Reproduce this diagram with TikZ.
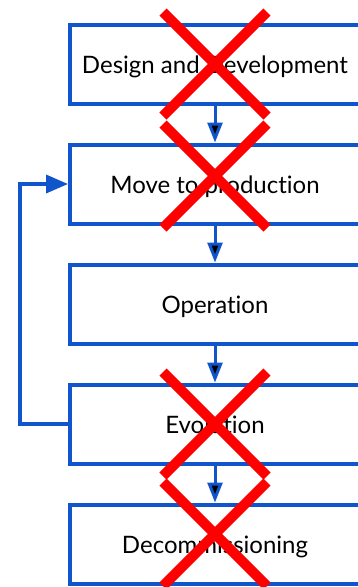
\documentclass[tikz,border=0pt]{standalone}
\usepackage{fontspec}
\setmainfont[Ligatures={NoCommon,NoDiscretionary}]{Lato}
\usetikzlibrary{arrows.meta}
\definecolor{flowblue}{HTML}{1155CC}
\definecolor{crossred}{HTML}{FF0000}
\begin{document}
\begin{tikzpicture}[x=1pt,y=-1pt,
	stage/.style={draw=flowblue, line width=4pt, minimum width=290pt, minimum height=79pt, inner sep=0pt, text height=20pt, text depth=1.5pt, text=black, font=\fontsize{24}{28}\selectfont},
	flow/.style={draw=flowblue, line width=3pt, -{Triangle[length=20pt,width=15pt]}},
	backflow/.style={draw=flowblue, line width=3.5pt, -{Triangle[length=22pt,width=18pt]}},
	cross/.style={draw=crossred, line width=10pt}]
		\useasboundingbox (0,0) rectangle (357,587);
		\node[stage] (design) at (215,64) {Design and Development};
		\node[stage] (move) at (215,184) {Move to production};
		\node[stage] (operation) at (215,304) {Operation};
		\node[stage] (evolution) at (215,424) {Evolution};
		\node[stage] (decom) at (215,544) {Decommissioning};
		\coordinate (lowturn) at (20,424);
		\coordinate (highturn) at (20,184);
		\path[flow] (design) edge (move);
		\path[flow] (move) edge (operation);
		\path[flow] (operation) edge (evolution);
		\path[flow] (evolution) edge (decom);
		\draw[backflow] (evolution.west) -- (lowturn) -- (highturn) -- (move.west);
		% crossed out stages
		\draw[cross] (163,12) -- (267,116) (267,12) -- (163,116);
		\draw[cross] (163,124) -- (267,228) (267,124) -- (163,228);
		\draw[cross] (163,372) -- (267,476) (267,372) -- (163,476);
		\draw[cross] (163,482) -- (267,586) (267,482) -- (163,586);
	\end{tikzpicture}
\end{document}
